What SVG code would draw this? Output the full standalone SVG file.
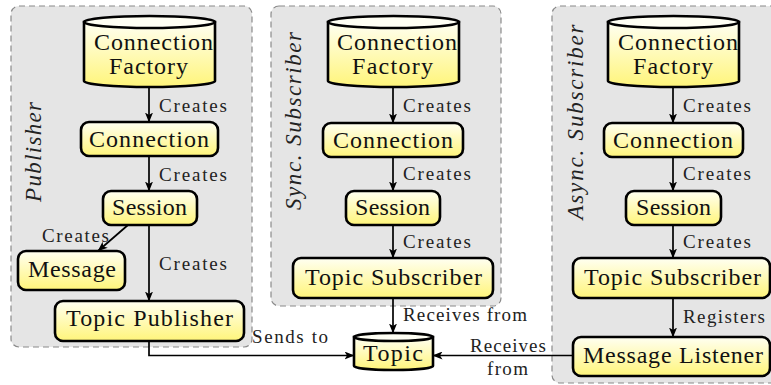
<svg xmlns="http://www.w3.org/2000/svg" width="771" height="385" viewBox="0 0 771 385">
<defs>
<linearGradient id="yg" x1="0" y1="0" x2="0" y2="1">
<stop offset="0" stop-color="#fffff2"/>
<stop offset="1" stop-color="#fff57a"/>
</linearGradient>
<marker id="ah" viewBox="0 0 10 8" refX="9.5" refY="4" markerWidth="10" markerHeight="8" markerUnits="userSpaceOnUse" orient="auto">
<path d="M0,0 L10,4 L0,8 L2.5,4 Z" fill="#000"/>
</marker>
</defs>

<g fill="#e5e5e5" stroke="#8a8a8a" stroke-width="1.2" stroke-dasharray="6 4">
<rect id="panel-publisher" x="11" y="6" width="241" height="341" rx="8"/>
<rect id="panel-sync" x="271" y="6" width="230" height="300" rx="8"/>
<rect id="panel-async" x="552" y="6" width="240" height="377" rx="8"/>
</g>
<g id="panel-titles" font-family="Liberation Serif" font-size="23" font-style="italic" fill="#222" text-anchor="middle">
<text transform="translate(41,152) rotate(-90)" textLength="100">Publisher</text>
<text transform="translate(301,121) rotate(-90)" textLength="178">Sync. Subscriber</text>
<text transform="translate(583,122) rotate(-90)" textLength="195">Async. Subscriber</text>
</g>

<g id="connectors">
<g fill="none" stroke="#000" stroke-width="1.7" marker-end="url(#ah)">
<path d="M149,87 L149,122"/>
<path d="M149,156 L149,191"/>
<path d="M128,225 L98,251"/>
<path d="M149,225 L149,301"/>
<path d="M149,341 L149,355.5 L354,355.5"/>
<path d="M393,87 L393,123"/>
<path d="M393,157 L393,191"/>
<path d="M393,225 L393,258"/>
<path d="M393,298 L393,333"/>
<path d="M673,87 L673,123"/>
<path d="M673,157 L673,191"/>
<path d="M673,225 L673,258"/>
<path d="M673,298 L673,337"/>
<path d="M573,355.5 L433,355.5"/>
</g>
<g font-family="Liberation Serif" font-size="19" fill="#222">
<text x="159" y="112" textLength="68">Creates</text>
<text x="159" y="181" textLength="68">Creates</text>
<text x="42" y="242" textLength="67">Creates</text>
<text x="159" y="270" textLength="68">Creates</text>
<text x="252" y="343" textLength="76">Sends to</text>
<text x="403" y="112" textLength="68">Creates</text>
<text x="403" y="180" textLength="68">Creates</text>
<text x="403" y="248" textLength="68">Creates</text>
<text x="403" y="321" textLength="124">Receives from</text>
<text x="683" y="112" textLength="68">Creates</text>
<text x="683" y="180" textLength="68">Creates</text>
<text x="683" y="248" textLength="68">Creates</text>
<text x="683" y="323" textLength="82">Registers</text>
<text x="470" y="352" textLength="76">Receives</text>
<text x="487" y="375" textLength="41">from</text>
</g>
</g>

<g id="nodes" stroke="#000" stroke-width="2.6" fill="url(#yg)">
<g id="pub-factory">
<path d="M84,22 L84,81 A65.5,6 0 0 0 215,81 L215,22 Z"/>
<ellipse fill="#fffff4" cx="149.5" cy="22" rx="65.5" ry="6"/>
</g>
<g id="pub-connection"><rect x="81" y="122" width="137" height="34" rx="8"/></g>
<g id="pub-session"><rect x="103" y="191" width="94" height="34" rx="8"/></g>
<g id="pub-message"><rect x="18" y="251" width="107" height="39" rx="8"/></g>
<g id="pub-topic-publisher"><rect x="55" y="301" width="189" height="40" rx="8"/></g>
<g id="sync-factory">
<path d="M328,22 L328,81 A65.5,6 0 0 0 459,81 L459,22 Z"/>
<ellipse fill="#fffff4" cx="393.5" cy="22" rx="65.5" ry="6"/>
</g>
<g id="sync-connection"><rect x="323" y="123" width="140" height="34" rx="8"/></g>
<g id="sync-session"><rect x="346" y="191" width="94" height="34" rx="8"/></g>
<g id="sync-topic-subscriber"><rect x="293" y="258" width="200" height="40" rx="8"/></g>
<g id="topic">
<path d="M354,337 L354,366 A39.5,4 0 0 0 433,366 L433,337 Z"/>
<ellipse fill="#fffff4" cx="393.5" cy="337" rx="39.5" ry="4"/>
</g>
<g id="async-factory">
<path d="M608,22 L608,81 A65.5,6 0 0 0 739,81 L739,22 Z"/>
<ellipse fill="#fffff4" cx="673.5" cy="22" rx="65.5" ry="6"/>
</g>
<g id="async-connection"><rect x="604" y="123" width="139" height="34" rx="8"/></g>
<g id="async-session"><rect x="626" y="191" width="95" height="34" rx="8"/></g>
<g id="async-topic-subscriber"><rect x="573" y="258" width="197" height="40" rx="8"/></g>
<g id="async-message-listener"><rect x="573" y="337" width="197" height="39" rx="8"/></g>
</g>

<g id="node-labels" font-family="Liberation Serif" font-size="24" fill="#111">
<text x="94" y="50" textLength="119">Connection</text>
<text x="109" y="74" textLength="79">Factory</text>
<text x="89" y="147" textLength="120">Connection</text>
<text x="112" y="215" textLength="75">Session</text>
<text x="28" y="277" textLength="88">Message</text>
<text x="66" y="326" textLength="167">Topic Publisher</text>
<text x="337" y="50" textLength="120">Connection</text>
<text x="352" y="74" textLength="81">Factory</text>
<text x="333" y="148" textLength="120">Connection</text>
<text x="355" y="215" textLength="75">Session</text>
<text x="305" y="285" textLength="177">Topic Subscriber</text>
<text x="363" y="361" textLength="60">Topic</text>
<text x="618" y="50" textLength="120">Connection</text>
<text x="633" y="74" textLength="80">Factory</text>
<text x="613" y="148" textLength="120">Connection</text>
<text x="636" y="215" textLength="75">Session</text>
<text x="584" y="285" textLength="177">Topic Subscriber</text>
<text x="583" y="363" textLength="180">Message Listener</text>
</g>
</svg>
